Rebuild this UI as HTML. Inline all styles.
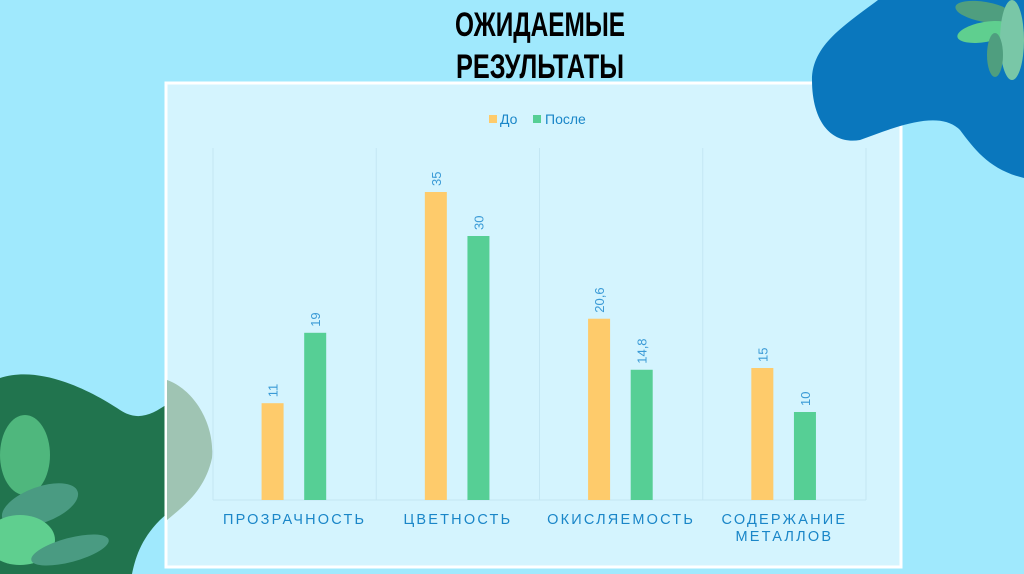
<!DOCTYPE html>
<html><head><meta charset="utf-8"><style>
body{margin:0;width:1024px;height:574px;overflow:hidden;background:#a0e9fd;font-family:"Liberation Sans","DejaVu Sans",sans-serif;}
#root{position:relative;width:1024px;height:574px;}
svg{position:absolute;left:0;top:0;}
</style></head><body><div id="root">
<svg id="s" width="1024" height="574">
  <path d="M0,378 C40,365 90,390 120,410 C150,430 170,395 200,385 C215,440 195,490 160,520 C140,540 135,560 132,574 L0,574 Z" fill="#21744e"/>
  <rect x="166" y="83" width="735" height="484" fill="#d4f4fe" stroke="#ffffff" stroke-width="3"/>
  <path d="M167,380 C195,390 215,425 212,458 C205,490 185,505 167,520 Z" fill="#9fc4b3"/>
  <path d="M878,0 L1024,0 L1024,178 C990,170 975,150 960,130 C940,110 900,125 860,140 C830,145 812,120 812,80 C812,45 845,25 878,0 Z" fill="#0a77bd"/>
  <g>
    <ellipse cx="985" cy="12" rx="30" ry="10" fill="#4f9e7f" transform="rotate(10 985 12)"/>
    <ellipse cx="985" cy="32" rx="28" ry="10" fill="#5fcf8f" transform="rotate(-10 985 32)"/>
    <ellipse cx="1012" cy="40" rx="12" ry="40" fill="#79c7a7"/>
    <ellipse cx="995" cy="55" rx="8" ry="22" fill="#4f9e7f"/>
  </g>
  <g>
    <ellipse cx="25" cy="455" rx="25" ry="40" fill="#4fb77d"/>
    <ellipse cx="40" cy="505" rx="40" ry="18" fill="#4a9b82" transform="rotate(-20 40 505)"/>
    <ellipse cx="20" cy="540" rx="35" ry="25" fill="#5fcf8f"/>
    <ellipse cx="70" cy="550" rx="40" ry="12" fill="#4a9b82" transform="rotate(-15 70 550)"/>
  </g>
  <text x="540" y="36" text-anchor="middle" font-family="'Liberation Sans Narrow','Liberation Sans',sans-serif" font-size="34" font-weight="bold" fill="#000" textLength="170" lengthAdjust="spacingAndGlyphs">ОЖИДАЕМЫЕ</text>
  <text x="540" y="78" text-anchor="middle" font-family="'Liberation Sans Narrow','Liberation Sans',sans-serif" font-size="34" font-weight="bold" fill="#000" textLength="168" lengthAdjust="spacingAndGlyphs">РЕЗУЛЬТАТЫ</text>
  <g id="legend">
    <rect x="489" y="115" width="8" height="8" fill="#fecb6b"/>
    <text x="500" y="124" font-size="14" fill="#1a86c8">До</text>
    <rect x="533" y="115" width="8" height="8" fill="#56cf95"/>
    <text x="545" y="124" font-size="14" fill="#1a86c8">После</text>
  </g>
  <g id="chart"></g>
</svg>
<script>
const categories=[["ПРОЗРАЧНОСТЬ"],["ЦВЕТНОСТЬ"],["ОКИСЛЯЕМОСТЬ"],["СОДЕРЖАНИЕ","МЕТАЛЛОВ"]];
const before=[11,35,20.6,15];
const after=[19,30,14.8,10];
const beforeLabels=["11","35","20,6","15"];
const afterLabels=["19","30","14,8","10"];
const yMax=40;
const NS="http://www.w3.org/2000/svg";
const g=document.getElementById('chart');
const X0=213,X1=866,Y0=500,Y1=148;
const band=(X1-X0)/categories.length;
const y=v=>Y0-(v/yMax)*(Y0-Y1);
function mk(t,a){const e=document.createElementNS(NS,t);for(const k in a)e.setAttribute(k,a[k]);g.appendChild(e);return e;}
for(let i=0;i<=categories.length;i++){
  const l=mk('line',{x1:X0+i*band,x2:X0+i*band,y1:Y1,y2:Y0,stroke:'#c3e6f3','stroke-width':1});
  
  
}
const ax=mk('line',{x1:X0,x2:X1,y1:Y0,y2:Y0,stroke:'#c3e6f3','stroke-width':1});


function bar(cx,v,lab,col,name){
  const r=mk('rect',{x:cx-11,y:y(v),width:22,height:Y0-y(v),fill:col});
  
  
  const ty=y(v)-6;
  const t=mk('text',{x:cx+5,y:ty,'font-size':13,fill:'#3a9ad6',transform:`rotate(-90 ${cx+5} ${ty})`});
  t.textContent=lab;
  
  
}
categories.forEach((c,i)=>{
  const c0=X0+i*band;
  bar(c0+band*0.365,before[i],beforeLabels[i],'#fecb6b','bar-before');
  bar(c0+band*0.626,after[i],afterLabels[i],'#56cf95','bar-after');
  c.forEach((line,j)=>{
    const t=mk('text',{x:c0+band/2,y:524+j*17,'text-anchor':'middle','font-size':14.5,'letter-spacing':'2.2',fill:'#1a86c8'});
    t.textContent=line;
    
    
  });
});
</script>
</div></body></html>
